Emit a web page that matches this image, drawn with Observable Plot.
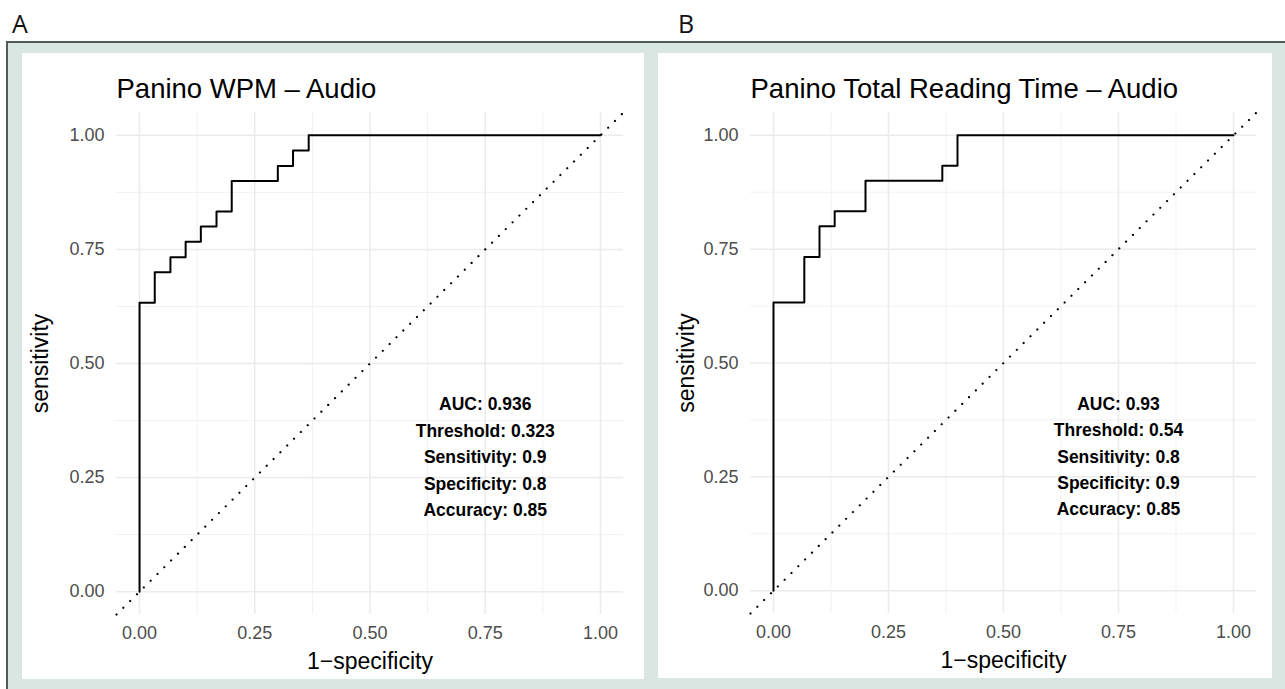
<!DOCTYPE html>
<html>
<head>
<meta charset="utf-8">
<script src="https://cdn.jsdelivr.net/npm/d3@7"></script>
<script src="https://cdn.jsdelivr.net/npm/@observablehq/plot@0.6"></script>
<style>
  html, body { margin: 0; padding: 0; background: #ffffff; }
  #page { position: relative; width: 1285px; height: 689px; overflow: hidden; background: #ffffff; }
  .tag { position: absolute; top: 11px; font-family: "Open Sans", "DejaVu Sans", sans-serif; font-size: 25px; color: #111; line-height: 1; }
  #frame { position: absolute; left: 6px; top: 41px; width: 1279px; height: 648px; background: #d9e6e2;
           border-top: 2.5px solid #4d5c59; border-left: 2.5px solid #4d5c59; box-sizing: border-box; }
  .panel { position: absolute; top: 53px; background: #ffffff; }
  .panel svg { display: block; }
</style>
</head>
<body>
<div id="page">
  <div class="tag" style="left:12px;">A</div>
  <div class="tag" style="left:678px;">B</div>
  <div id="frame"></div>
  <div class="panel" id="panelA" style="left:22px; width:622px; height:626px;"></div>
  <div class="panel" id="panelB" style="left:658px; width:614px; height:625px;"></div>
</div>
<script>
// ---- data ----
const majorTicks = [0, 0.25, 0.5, 0.75, 1];
const minorTicks = [0.125, 0.375, 0.625, 0.875];
const axisDomain = [-0.05, 1.05];

const titleA = "Panino WPM \u2013 Audio";
const rocA_fpr = [0, 0, 0.033, 0.067, 0.1, 0.133, 0.167, 0.2, 0.3, 0.333, 0.367, 1];
const rocA_tpr = [0, 0.633, 0.7, 0.733, 0.767, 0.8, 0.833, 0.9, 0.933, 0.967, 1, 1];
const statsA = ["AUC: 0.936", "Threshold: 0.323", "Sensitivity: 0.9", "Specificity: 0.8", "Accuracy: 0.85"];

const titleB = "Panino Total Reading Time \u2013 Audio";
const rocB_fpr = [0, 0, 0.067, 0.1, 0.133, 0.2, 0.367, 0.4, 1];
const rocB_tpr = [0, 0.633, 0.733, 0.8, 0.833, 0.9, 0.933, 1, 1];
const statsB = ["AUC: 0.93", "Threshold: 0.54", "Sensitivity: 0.8", "Specificity: 0.9", "Accuracy: 0.85"];

const statsAnchor = {x: 0.75, y: 0.3};
const xLabel = "1\u2212specificity";
const yLabel = "sensitivity";

const FONT = "'Liberation Sans', Arial, Helvetica, sans-serif";

function rocPanel({title, fpr, tpr, stats, width, height, marginLeft, marginRight, yLabelDx}) {
  const pts = fpr.map((f, i) => ({fpr: f, tpr: tpr[i]}));
  return Plot.plot({
    width, height,
    marginLeft, marginRight, marginTop: 59, marginBottom: 65,
    style: {fontFamily: FONT, fontSize: "18px", background: "white", color: "#000"},
    x: {domain: axisDomain},
    y: {domain: axisDomain},
    marks: [
      Plot.ruleX(minorTicks, {stroke: "#f1f1f1", strokeWidth: 1}),
      Plot.ruleY(minorTicks, {stroke: "#f1f1f1", strokeWidth: 1}),
      Plot.ruleX(majorTicks, {stroke: "#ebebeb", strokeWidth: 1.5}),
      Plot.ruleY(majorTicks, {stroke: "#ebebeb", strokeWidth: 1.5}),
      Plot.axisX({ticks: majorTicks, tickSize: 0, tickPadding: 12, tickFormat: d3.format(".2f"),
                  label: null, fill: "#4d4d4d", fontSize: 18}),
      Plot.axisY({ticks: majorTicks, tickSize: 0, tickPadding: 12, tickFormat: d3.format(".2f"),
                  label: null, fill: "#4d4d4d", fontSize: 18}),
      Plot.line(axisDomain, {x: d => d, y: d => d, stroke: "#000", strokeWidth: 2.2,
                 strokeDasharray: "0.01 9.6", strokeLinecap: "round"}),
      Plot.line(pts, {x: "fpr", y: "tpr", curve: "step-after", stroke: "#000", strokeWidth: 2}),
      Plot.text([stats.join("\n")], {x: statsAnchor.x, y: statsAnchor.y, fontSize: 17.5, fontWeight: "bold",
                 lineHeight: 1.51, fill: "#000", textAnchor: "middle", lineAnchor: "middle"}),
      Plot.text([title], {frameAnchor: "top-left", textAnchor: "start", lineAnchor: "bottom", dy: -15,
                 fontSize: 27.5, fill: "#000"}),
      Plot.text([xLabel], {frameAnchor: "bottom", lineAnchor: "bottom", dy: 54, fontSize: 23, fill: "#000"}),
      Plot.text([yLabel], {frameAnchor: "left", rotate: -90, dx: yLabelDx, lineAnchor: "middle",
                 textAnchor: "middle", fontSize: 23, fill: "#000"})
    ]
  });
}

document.getElementById("panelA").append(rocPanel({
  title: titleA, fpr: rocA_fpr, tpr: rocA_tpr, stats: statsA,
  width: 622, height: 626, marginLeft: 94, marginRight: 21, yLabelDx: -76
}));
document.getElementById("panelB").append(rocPanel({
  title: titleB, fpr: rocB_fpr, tpr: rocB_tpr, stats: statsB,
  width: 614, height: 625, marginLeft: 92, marginRight: 16, yLabelDx: -64
}));
</script>
</body>
</html>
